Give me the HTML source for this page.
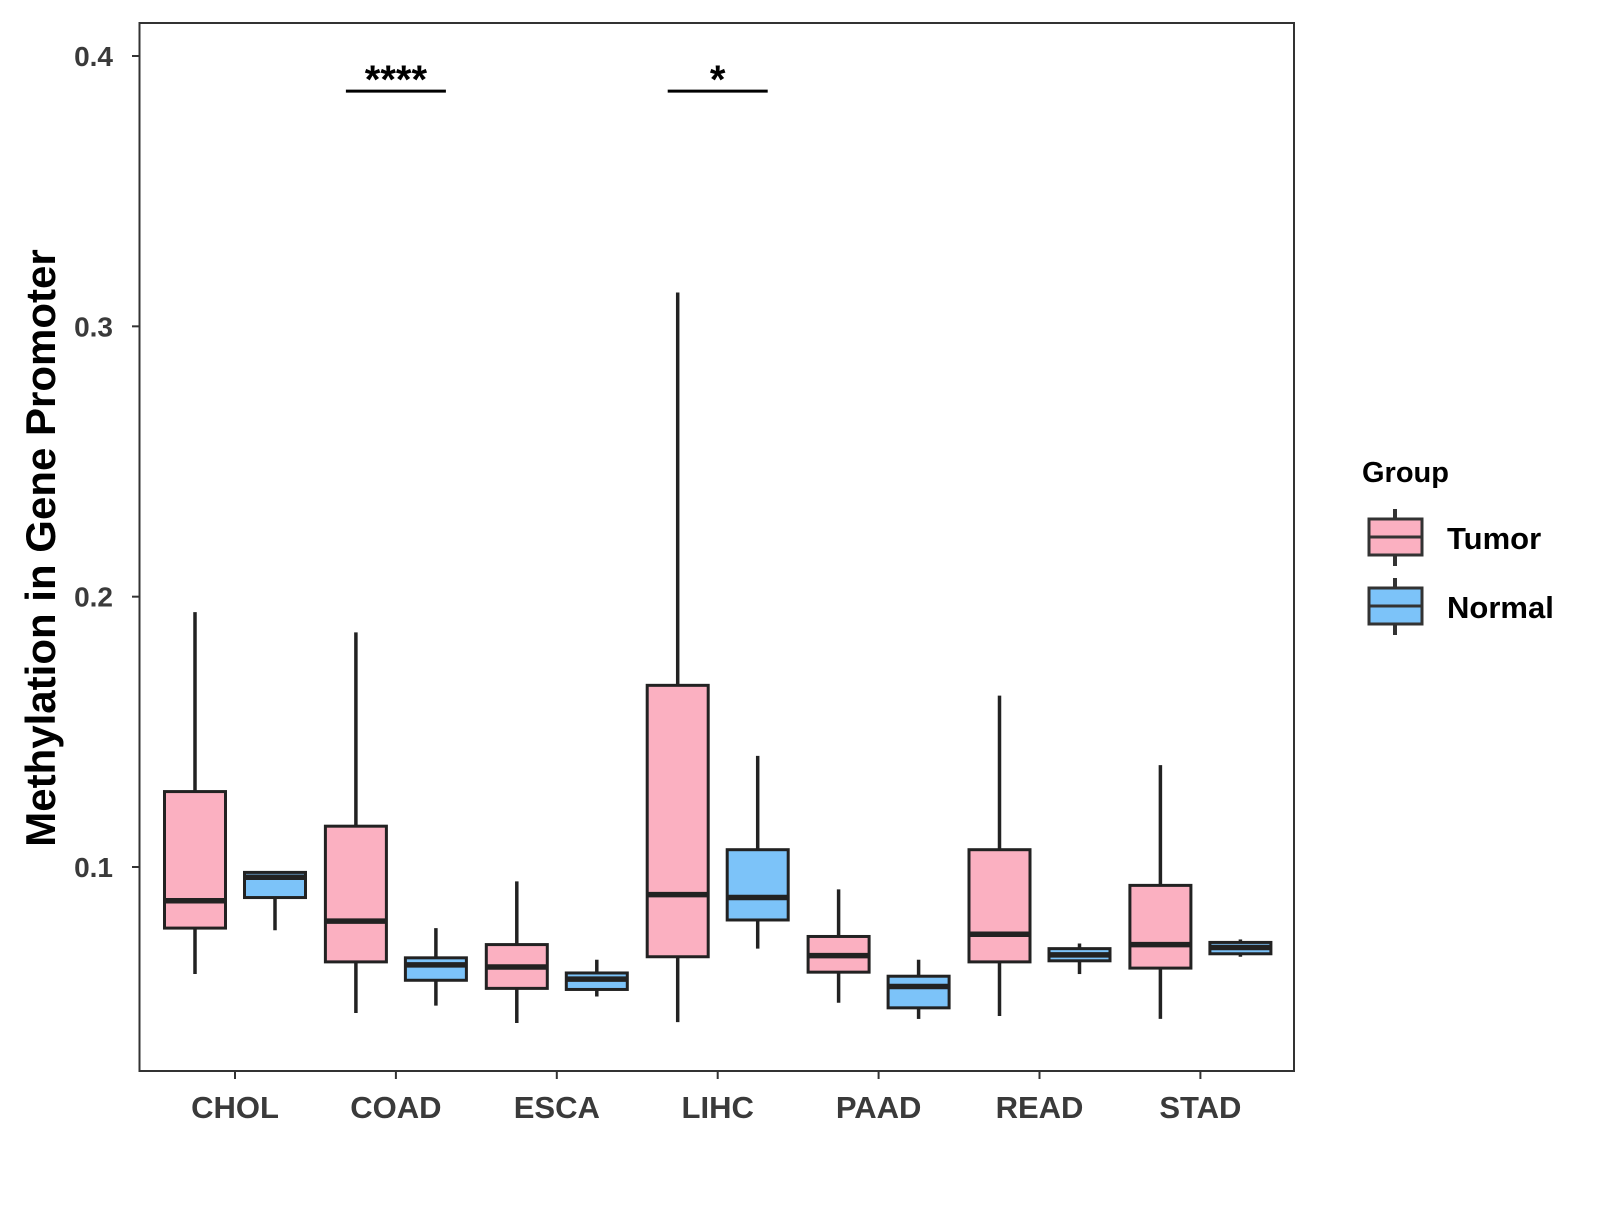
<!DOCTYPE html>
<html><head><meta charset="utf-8"><style>
body{margin:0;background:#fff;}
svg text{font-family:"Liberation Sans",Arial,sans-serif;font-weight:bold;}
</style></head><body>
<svg width="1600" height="1200" viewBox="0 0 1600 1200" xmlns="http://www.w3.org/2000/svg">
<g id="plot"></g>
<rect x="139.5" y="23" width="1154.5" height="1048" fill="none" stroke="#333" stroke-width="2"/>
<text transform="translate(55,548) rotate(-90)" text-anchor="middle" font-size="42" fill="#000">Methylation in Gene Promoter</text>
<g>
<text x="1362" y="482" font-size="29" fill="#000">Group</text>
<g>
<line x1="1395" y1="509" x2="1395" y2="566" stroke="#333" stroke-width="4"/>
<rect x="1369" y="519" width="53" height="36" fill="#FBB0C1" stroke="#333" stroke-width="3"/>
<line x1="1369" y1="537" x2="1422" y2="537" stroke="#333" stroke-width="3"/>
<text x="1447" y="549" font-size="31" fill="#000">Tumor</text></g>
<g>
<line x1="1395" y1="578" x2="1395" y2="635" stroke="#333" stroke-width="4"/>
<rect x="1369" y="588" width="53" height="36" fill="#7CC3F9" stroke="#333" stroke-width="3"/>
<line x1="1369" y1="606" x2="1422" y2="606" stroke="#333" stroke-width="3"/>
<text x="1447" y="618" font-size="31" fill="#000">Normal</text></g>
</g>
</svg>
<script>
const categories=["CHOL","COAD","ESCA","LIHC","PAAD","READ","STAD"];
const tumorStats=[[0.0604,0.0774,0.0875,0.1279,0.1943],[0.046,0.0649,0.080,0.1151,0.1868],[0.0423,0.0551,0.063,0.0713,0.0947],[0.0426,0.0668,0.0898,0.1672,0.3125],[0.0498,0.0611,0.0672,0.0743,0.0917],[0.0449,0.0649,0.0751,0.1064,0.1634],[0.0438,0.0626,0.0713,0.0932,0.1377]];
const normalStats=[[0.0766,0.0887,0.0962,0.098,0.098],[0.0487,0.0581,0.0638,0.0664,0.0774],[0.0521,0.0547,0.0585,0.0608,0.0657],[0.0698,0.0804,0.0887,0.1064,0.1411],[0.0438,0.0479,0.0558,0.0596,0.0657],[0.0604,0.0653,0.0675,0.0698,0.0717],[0.0668,0.0679,0.0702,0.0721,0.0732]];
const yTicks=[0.1,0.2,0.3,0.4];
const sigCats=["COAD","LIHC"];
const sigLabels=["****","*"];
const sigY=0.387;
const NS="http://www.w3.org/2000/svg";
const g=document.getElementById('plot');
const y=v=>867-(v-0.1)*2703.3;
const x=i=>235+i*160.9;
function mk(t,a,p){const e=document.createElementNS(NS,t);for(const k in a)e.setAttribute(k,a[k]);(p||g).appendChild(e);return e;}
yTicks.forEach(t=>{
 const l=mk('line',{x1:132,x2:139.5,y1:y(t),y2:y(t),stroke:'#333','stroke-width':2});
 
 
 const tx=mk('text',{x:113,y:y(t)+10,'text-anchor':'end','font-size':28,fill:'#3a3a3a'});tx.textContent=t.toFixed(1);
 
 
});
categories.forEach((c,i)=>{
 const l=mk('line',{x1:x(i),x2:x(i),y1:1071,y2:1079,stroke:'#333','stroke-width':2});
 
 
 const tx=mk('text',{x:x(i),y:1118,'text-anchor':'middle','font-size':31,fill:'#3a3a3a'});tx.textContent=c;
 
 
 [[tumorStats[i],-40,'#FBB0C1','tumor'],[normalStats[i],40,'#7CC3F9','normal']].forEach(([s,off,col,nm])=>{
  const cx=x(i)+off, w=61;
  const bg=mk('g',{});
  
  
  mk('line',{x1:cx,x2:cx,y1:y(s[0]),y2:y(s[4]),stroke:'#222','stroke-width':3.5},bg);
  mk('rect',{x:cx-w/2,y:y(s[3]),width:w,height:Math.max(y(s[1])-y(s[3]),1),fill:col,stroke:'#222','stroke-width':3},bg);
  mk('line',{x1:cx-w/2,x2:cx+w/2,y1:y(s[2]),y2:y(s[2]),stroke:'#222','stroke-width':5.5},bg);
 });
});
sigCats.forEach((c,k)=>{
 const i=categories.indexOf(c);
 const l=mk('line',{x1:x(i)-50,x2:x(i)+50,y1:y(sigY),y2:y(sigY),stroke:'#000','stroke-width':3});
 
 
 const tx=mk('text',{x:x(i),y:y(sigY)+2,'text-anchor':'middle','font-size':40,fill:'#000'});tx.textContent=sigLabels[k];
 
 
});
</script>
</body></html>
